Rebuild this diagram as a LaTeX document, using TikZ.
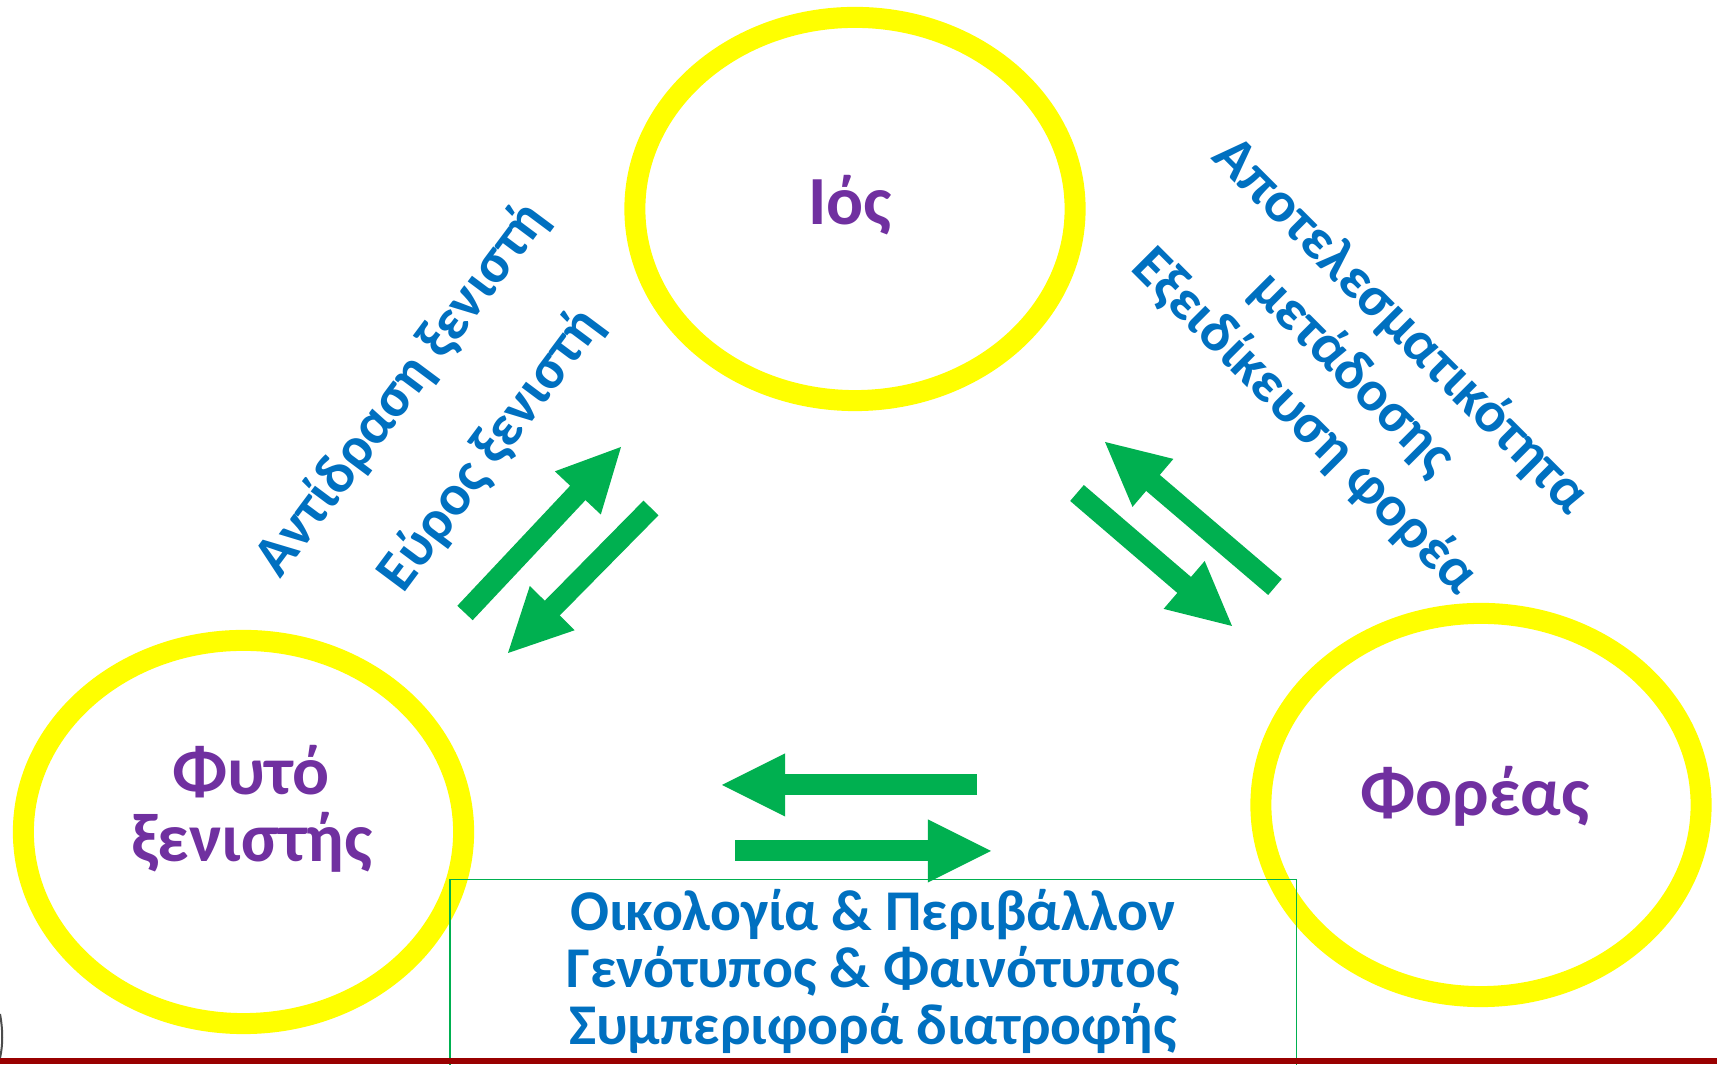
\documentclass[tikz,border=0pt]{standalone}
\usepackage{fontspec}
\setmainfont{Carlito}
\usetikzlibrary{calc,shapes.geometric}
\definecolor{ringyellow}{HTML}{FFFF00}
\definecolor{labpurple}{HTML}{7030A0}
\definecolor{txtblue}{HTML}{0070C0}
\definecolor{arrgreen}{HTML}{00B050}
\definecolor{barred}{HTML}{990000}
\newcommand\LabFont{\bfseries\fontsize{19.6}{24}\selectfont}
\newcommand\BlueFont{\bfseries\fontsize{16.4}{19.35}\selectfont}
\newcommand\blockarrow[2]{%
  \draw[arrgreen, line width=0.21cm] (#1) -- ($(#2)!0.6cm!(#1)$);
  \path ($(#2)!0.63cm!(#1)$) coordinate (hb);
  \fill[arrgreen] (#2) -- ($(hb)!0.315cm!90:(#2)$) -- ($(hb)!0.315cm!-90:(#2)$) -- cycle;
}
\begin{document}
\begin{tikzpicture}[x=0.01cm, y=-0.01cm,
  ring/.style={ellipse, draw=ringyellow, line width=0.21cm, minimum width=4.4cm, minimum height=3.83cm, inner sep=0pt},
  lab/.style={text=labpurple, font=\LabFont, inner sep=0pt, anchor=base},
  bluetxt/.style={text=txtblue, font=\BlueFont, inner sep=0pt},
  bluebase/.style={bluetxt, anchor=base}]
\useasboundingbox (0,0) rectangle (1717,1065);
\fill[white] (0,0) rectangle (1717,1065);

% rings
\node[ring] (ios) at (855,209) {};
\node[ring] (fyto) at (243.5,832) {};
\node[ring] (foreas) at (1481,805) {};

% purple labels
\node[lab] (iostxt) at (850,225) {Ιός};
\node[lab] (fytotxt1) at (251,795) {Φυτό};
\node[lab] (fytotxt2) at (252,862) {ξενιστής};
\node[lab] (foreastxt) at (1475,816) {Φορέας};

% rotated blue labels
\node[bluetxt, rotate=53.3] (antid) at (402,390) {Αντίδραση ξενιστή};
\node[bluetxt, rotate=53.3] (euros) at (491,450) {Εύρος ξενιστή};
\node[bluetxt, rotate=-45, align=center] (apotel) at (1353,374)
  {Αποτελεσματικότητα\\μετάδοσης\\Εξειδίκευση φορέα};

% arrow end points
\coordinate (a1s) at (465,613);  \coordinate (a1e) at (621,447);
\coordinate (a2s) at (651,508);  \coordinate (a2e) at (508,653);
\coordinate (a3s) at (1275,587); \coordinate (a3e) at (1105,442);
\coordinate (a4s) at (1077,493); \coordinate (a4e) at (1232,626);
\coordinate (a5s) at (977,785);  \coordinate (a5e) at (722,785);
\coordinate (a6s) at (735,851);  \coordinate (a6e) at (991,851);
\blockarrow{a1s}{a1e}
\blockarrow{a2s}{a2e}
\blockarrow{a3s}{a3e}
\blockarrow{a4s}{a4e}
\blockarrow{a5s}{a5e}
\blockarrow{a6s}{a6e}

% bottom box
\begin{scope}
\clip (0,0) rectangle (1717,1065);
\node[draw=arrgreen, line width=0.015cm, minimum width=8.46cm, minimum height=2.4cm, anchor=north, inner sep=0pt] (envbox) at (873,879) {};
\end{scope}
\node[bluebase] (env1) at (873,931) {Οικολογία \& Περιβάλλον};
\node[bluebase] (env2) at (873,988) {Γενότυπος \& Φαινότυπος};
\node[bluebase] (env3) at (873,1045) {Συμπεριφορά διατροφής};

% bottom bar and edge mark
\fill[barred] (0,1058.5) rectangle (1717,1064);
\draw[black!70, line width=0.02cm] (0,1014) .. controls (3,1030) and (3,1045) .. (0,1058);
\end{tikzpicture}
\end{document}
